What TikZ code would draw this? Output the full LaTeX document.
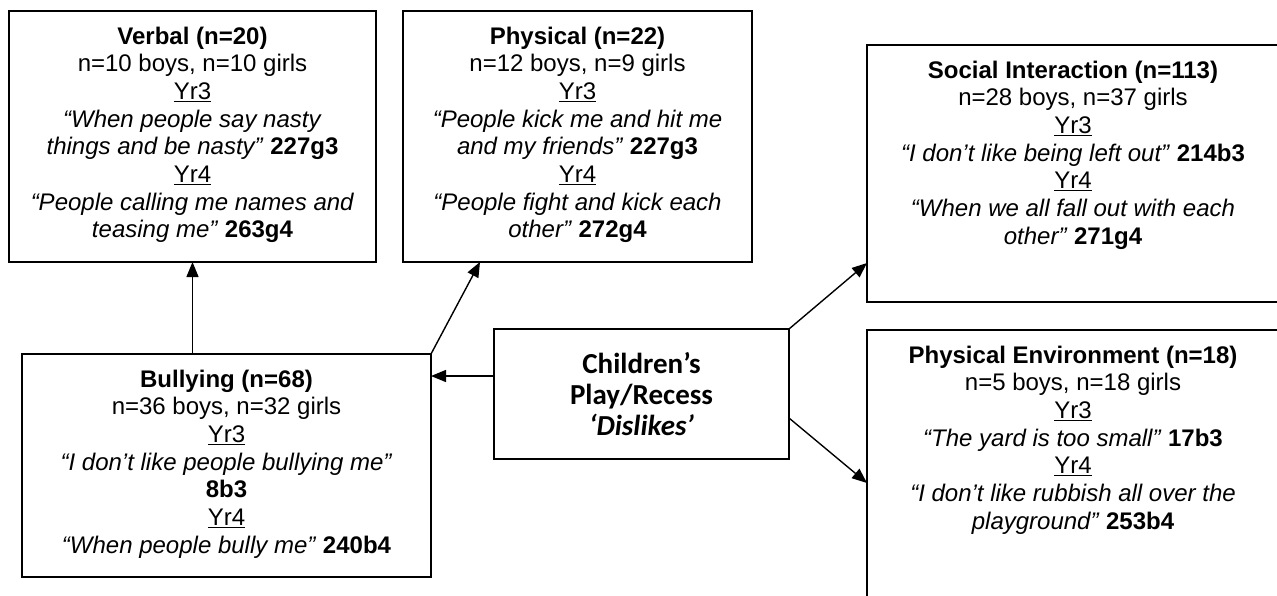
\documentclass[tikz,border=0pt]{standalone}
\usepackage{fontspec}
\setmainfont{Liberation Sans}
\newfontfamily\calibri{Carlito}
\usetikzlibrary{positioning,arrows.meta,calc}

\newcommand{\catbody}[3]{\parbox[c][#2][t]{#1}{\centering\fontsize{24}{27.7}\selectfont\rule{0pt}{33pt}#3}}
\newcommand{\yr}[1]{\underline{Yr#1}}

\begin{document}
\begin{tikzpicture}[
  x=1pt, y=-1pt,
  node distance=27pt,
  catbox/.style={draw, line width=1.4pt, inner sep=0pt, outer sep=0pt},
  arr/.style={line width=1.4pt, -{Triangle[length=15pt,width=12pt]}}
]
\useasboundingbox (0,0) rectangle (1277,595);
\clip (0,0) rectangle (1277,595);

\node[catbox] (verbal) at (192.5,136.5) {\catbody{367pt}{251pt}{%
  \textbf{Verbal (n=20)}\\
  n=10 boys, n=10 girls\\
  \yr{3}\\
  \textit{“When people say nasty}\\
  \textit{things and be nasty”} \textbf{227g3}\\
  \yr{4}\\
  \textit{“People calling me names and}\\
  \textit{teasing me”} \textbf{263g4}}};
\node[catbox, right=of verbal] (physical) {\catbody{349pt}{251pt}{%
  \textbf{Physical (n=22)}\\
  n=12 boys, n=9 girls\\
  \yr{3}\\
  \textit{“People kick me and hit me}\\
  \textit{and my friends”} \textbf{227g3}\\
  \yr{4}\\
  \textit{“People fight and kick each}\\
  \textit{other”} \textbf{272g4}}};
\node[catbox] (bullying) at (226.5,465.5) {\catbody{409pt}{223pt}{%
  \textbf{Bullying (n=68)}\\
  n=36 boys, n=32 girls\\
  \yr{3}\\
  \textit{“I don’t like people bullying me”}\\
  \textbf{8b3}\\
  \yr{4}\\
  \textit{“When people bully me”} \textbf{240b4}}};
\node[catbox, minimum width=295pt, minimum height=130pt, align=center,
  font=\calibri\bfseries\fontsize{29}{31}\selectfont] (central) at (641.5,394)
  {Children’s\\Play/Recess\\\textit{‘Dislikes’}};
\node[catbox] (social) at (1073,173.5) {\catbody{412pt}{257pt}{%
  \textbf{Social Interaction (n=113)}\\
  n=28 boys, n=37 girls\\
  \yr{3}\\
  \textit{“I don’t like being left out”} \textbf{214b3}\\
  \yr{4}\\
  \textit{“When we all fall out with each}\\
  \textit{other”} \textbf{271g4}}};
\node[catbox] (physenv) at (1073,470) {\catbody{412pt}{280pt}{%
  \textbf{Physical Environment (n=18)}\\
  n=5 boys, n=18 girls\\
  \yr{3}\\
  \textit{“The yard is too small”} \textbf{17b3}\\
  \yr{4}\\
  \textit{“I don’t like rubbish all over the}\\
  \textit{playground”} \textbf{253b4}}};

% links from the centre box
\draw[arr] ($(central.north west)+(0,47)$) -- (bullying.east |- {$(central.north west)+(0,47)$});
\draw[arr] (central.north east) -- ($(social.south west)+(0,-39)$);
\draw[arr] ($(central.south east)+(0,-41)$) -- ($(physenv.north west)+(0,153)$);
% bullying subtypes
\draw[arr] (bullying.north -| verbal.south) -- (verbal.south);
\draw[arr] (bullying.north east) -- ($(physical.south west)+(77,0)$);
\end{tikzpicture}
\end{document}
